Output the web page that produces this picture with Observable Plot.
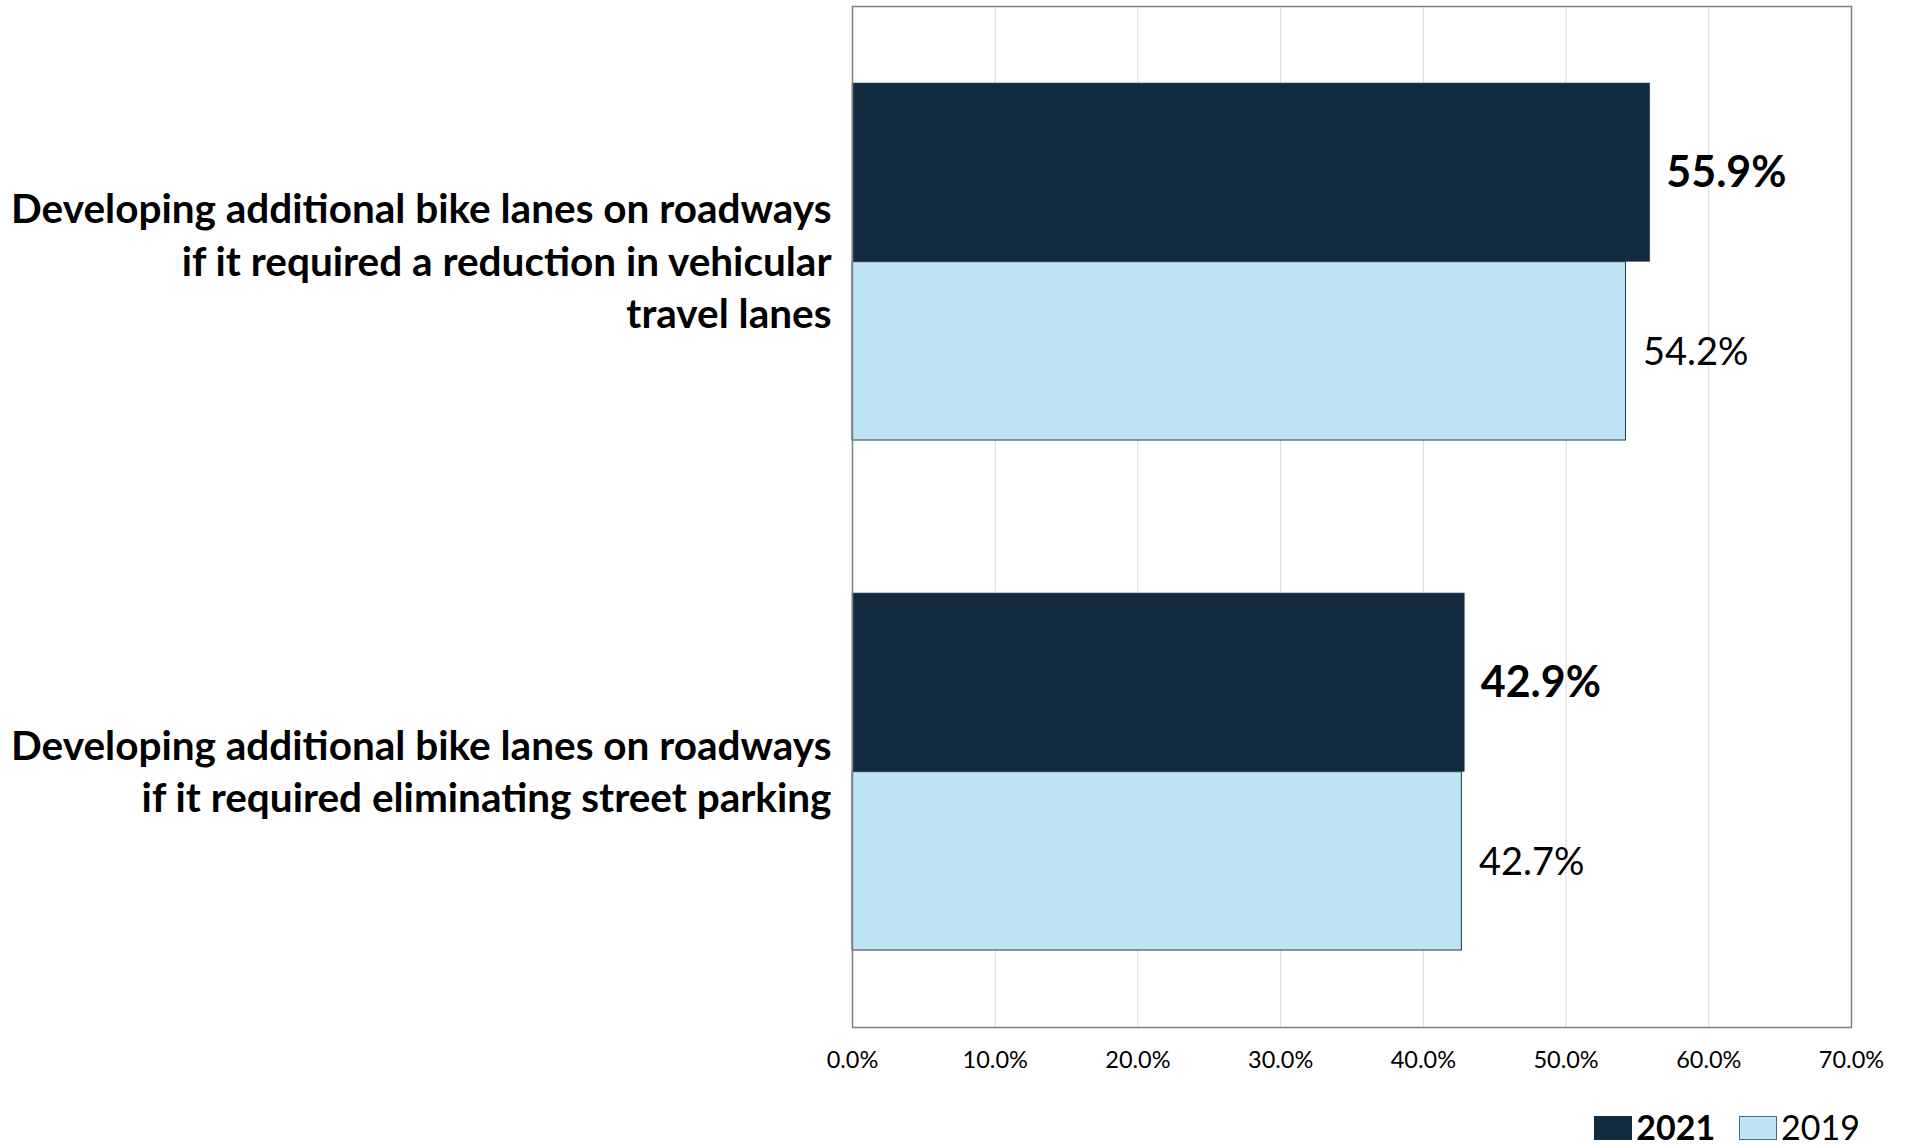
<!DOCTYPE html>
<html>
<head>
<meta charset="utf-8">
<script src="https://cdn.jsdelivr.net/npm/d3@7"></script>
<script src="https://cdn.jsdelivr.net/npm/@observablehq/plot@0.6"></script>
<style>
  html, body { margin: 0; padding: 0; background: #fff; overflow: hidden; }
  #chart svg { display: block; }
  #legend { width: 1910px; height: 47px; display: flex; justify-content: flex-end; align-items: flex-end;
    padding-bottom: 1px; box-sizing: content-box; font-family: Lato, "Open Sans", sans-serif; font-size: 34px; line-height: normal; color: #000; }
  #legend .sw { display: inline-block; width: 38px; height: 24px; margin-right: 4px; margin-bottom: 7px; box-sizing: border-box; }
  #legend .item { display: flex; align-items: flex-end; margin-right: 24px; }
  #legend .item:last-child { margin-right: 50px; }
</style>
</head>
<body>
<div id="chart"></div>
<div id="legend"></div>
<script>
// ---- data ----
const questions = [
  "Developing additional bike lanes on roadways\nif it required a reduction in vehicular\ntravel lanes",
  "Developing additional bike lanes on roadways\nif it required eliminating street parking"
];
const years = ["2021", "2019"];
const values2021 = [55.9, 42.9];
const values2019 = [54.2, 42.7];
const xTicks = [0, 10, 20, 30, 40, 50, 60, 70];
const colors = { "2021": "#122a3d", "2019": "#bfe4f3" };

const rows = [];
questions.forEach((q, i) => {
  rows.push({ question: q, year: "2021", value: values2021[i] });
  rows.push({ question: q, year: "2019", value: values2019[i] });
});

// ---- layout ----
const W = 1910, H = 1100;
const mTop = 6, mBottom = 73, mLeft = 852, mRight = 59;
const innerH = H - mTop - mBottom;
const bandW = (innerH / questions.length) * 0.7;
const half = bandW / 2;
const font = "Lato, 'Open Sans', sans-serif";

const chart = Plot.plot({
  width: W,
  height: H,
  marginTop: mTop,
  marginBottom: mBottom,
  marginLeft: mLeft,
  marginRight: mRight,
  style: { fontFamily: font, color: "#000", background: "#fff" },
  x: {
    domain: [0, 70],
    ticks: xTicks,
    tickFormat: d => d.toFixed(1) + "%",
    tickSize: 0,
    tickPadding: 24,
    label: null
  },
  y: {
    domain: questions,
    paddingInner: 0.3,
    paddingOuter: 0.15,
    axis: null,
    label: null
  },
  marks: [
    Plot.ruleX(xTicks.slice(1, -1), { stroke: "#d9d9d9", strokeWidth: 1 }),
    Plot.barX(rows.filter(d => d.year === "2021"), {
      x: "value", y: "question", fill: colors["2021"], insetBottom: half,
      stroke: "#3b5468", strokeWidth: 0.6
    }),
    Plot.barX(rows.filter(d => d.year === "2019"), {
      x: "value", y: "question", fill: colors["2019"], insetTop: half,
      stroke: "#1c3a52", strokeWidth: 1
    }),
    Plot.text(rows.filter(d => d.year === "2021"), {
      x: "value", y: "question", text: d => d.value.toFixed(1) + "%",
      textAnchor: "start", dx: 16, dy: -half / 2 + 1, fontSize: 43, fontWeight: "bold", fill: "#000"
    }),
    Plot.text(rows.filter(d => d.year === "2019"), {
      x: "value", y: "question", text: d => d.value.toFixed(1) + "%",
      textAnchor: "start", dx: 17, dy: half / 2 + 1, fontSize: 38, fill: "#000"
    }),
    Plot.text(questions, {
      x: () => 0, y: d => d, text: d => d,
      textAnchor: "end", dx: -21, dy: -3, fontSize: 40.5, fontWeight: "bold", lineHeight: 1.295, fill: "#000"
    }),
    Plot.frame({ stroke: "#7f7f7f", strokeWidth: 1.5 })
  ]
});

// enlarge x tick labels
const xAxisG = chart.querySelector("[aria-label='x-axis tick label']") || chart.querySelector("g[aria-label='x-axis']");
if (xAxisG) xAxisG.setAttribute("font-size", "23.5");

document.getElementById("chart").appendChild(chart);

// ---- legend ----
const legend = document.getElementById("legend");
years.forEach(y => {
  const item = document.createElement("div");
  item.className = "item";
  const sw = document.createElement("span");
  sw.className = "sw";
  sw.style.background = colors[y];
  sw.style.border = y === "2019" ? "1.5px solid #3b6f8c" : "none";
  const lab = document.createElement("span");
  lab.textContent = y;
  lab.style.fontWeight = y === "2021" ? "bold" : "normal";
  item.appendChild(sw);
  item.appendChild(lab);
  legend.appendChild(item);
});
</script>
</body>
</html>
